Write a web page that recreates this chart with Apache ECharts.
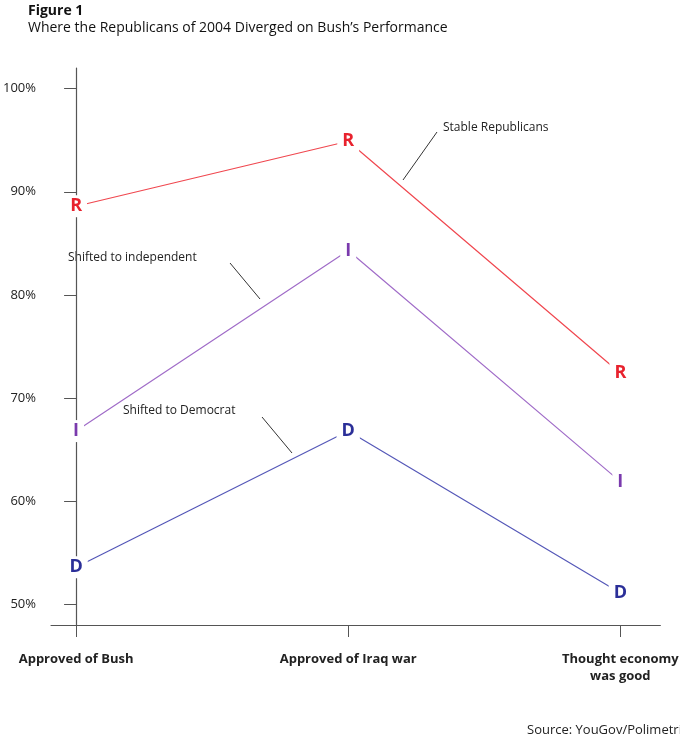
<!DOCTYPE html>
<html>
<head>
<meta charset="utf-8">
<script src="https://cdn.jsdelivr.net/npm/echarts@6/dist/echarts.min.js"></script>
<style>html,body{margin:0;padding:0;background:#fff}#chart{width:680px;height:740px}</style>
</head>
<body>
<div id="chart"></div>
<script>
var categories = ['Approved of Bush', 'Approved of Iraq war', 'Thought economy\nwas good'];
var stableRep = [88.6, 94.9, 72.4];
var shiftedInd = [66.8, 84.3, 61.9];
var shiftedDem = [53.6, 66.8, 51.1];
var yTicks = [50, 60, 70, 80, 90, 100];
var xTicks = [0, 1, 2];

var font = '"Open Sans", "DejaVu Sans", sans-serif';

function makeSeries(name, values, letter, lineColor, letterColor) {
    return {
        name: name,
        type: 'line',
        data: values.map(function (v, i) { return [i, v]; }),
        symbol: 'circle',
        symbolSize: 1,
        itemStyle: {color: lineColor},
        lineStyle: {color: lineColor, width: 1.2},
        label: {
            show: true,
            position: 'inside',
            formatter: letter,
            color: letterColor,
            fontSize: 18,
            fontWeight: 'bold',
            fontFamily: font,
            backgroundColor: '#fff',
            padding: [2, 5]
        },
        silent: true,
        z: 3
    };
}

var myChart = echarts.init(document.getElementById('chart'));
var option = {
    animation: false,
    grid: {left: 25, right: 0, top: 68, bottom: 115},
    xAxis: {
        type: 'value',
        min: -0.092,
        max: 2.147,
        splitLine: {show: false},
        axisLine: {lineStyle: {color: '#555', width: 1.2}},
        axisTick: {show: true, length: 12, customValues: xTicks, lineStyle: {color: '#555'}},
        axisLabel: {
            customValues: xTicks,
            formatter: function (v) { return categories[Math.round(v)]; },
            margin: 26,
            fontSize: 13,
            fontWeight: 'bold',
            fontFamily: font,
            color: '#222',
            lineHeight: 17
        }
    },
    yAxis: {
        type: 'value',
        min: 48,
        max: 102,
        splitLine: {show: false},
        axisLine: {show: true, lineStyle: {color: '#555', width: 1.2}},
        axisTick: {show: true, length: 12, customValues: yTicks, lineStyle: {color: '#555'}},
        axisLabel: {
            customValues: yTicks,
            formatter: '{value}%',
            margin: 15,
            fontSize: 13,
            fontFamily: font,
            color: '#222'
        }
    },
    series: [
        makeSeries('Stable Republicans', stableRep, 'R', '#f0474f', '#e8222e'),
        makeSeries('Shifted to independent', shiftedInd, 'I', '#a06cc8', '#7a3aad'),
        makeSeries('Shifted to Democrat', shiftedDem, 'D', '#5558b8', '#2b2f98')
    ],
    graphic: [
        {type: 'text', left: 28, top: 4, style: {text: 'Figure 1', font: 'bold 14px ' + font, fill: '#111'}},
        {type: 'text', left: 28, top: 21, style: {text: 'Where the Republicans of 2004 Diverged on Bush\u2019s Performance', font: '14px ' + font, fill: '#111'}},
        {type: 'text', left: 527, top: 724, style: {text: 'Source: YouGov/Polimetrix', font: '13px ' + font, fill: '#222'}},
        {type: 'text', left: 443, top: 122, style: {text: 'Stable Republicans', font: '12px ' + font, fill: '#222'}},
        {type: 'line', shape: {x1: 437, y1: 132, x2: 403, y2: 180}, style: {stroke: '#333', lineWidth: 1}},
        {type: 'text', left: 68, top: 252, style: {text: 'Shifted to independent', font: '12px ' + font, fill: '#222'}},
        {type: 'line', shape: {x1: 230, y1: 263, x2: 260, y2: 299}, style: {stroke: '#333', lineWidth: 1}},
        {type: 'text', left: 123, top: 405, style: {text: 'Shifted to Democrat', font: '12px ' + font, fill: '#222'}},
        {type: 'line', shape: {x1: 262, y1: 417, x2: 292, y2: 453}, style: {stroke: '#333', lineWidth: 1}}
    ]
};
myChart.setOption(option);
</script>
</body>
</html>
